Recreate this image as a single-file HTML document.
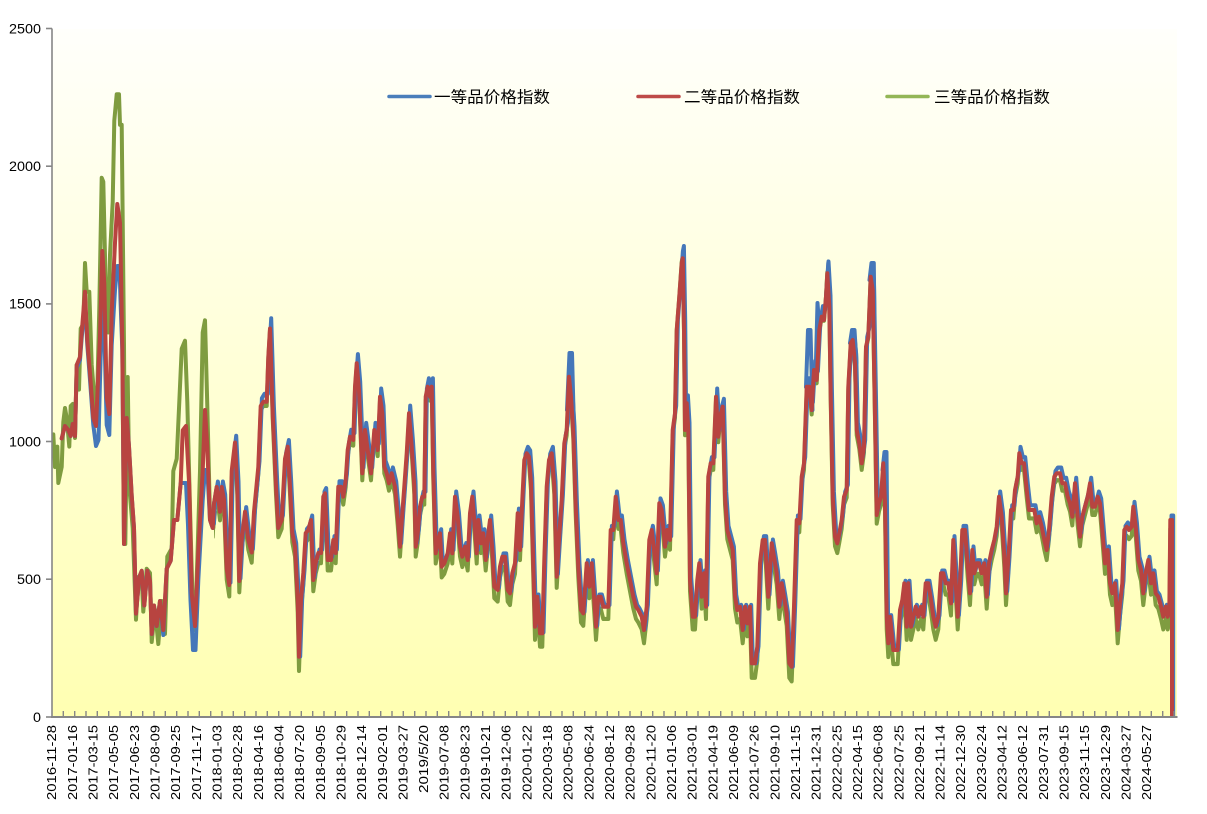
<!DOCTYPE html>
<html><head><meta charset="utf-8"><style>
html,body{margin:0;padding:0;background:#fff;}
svg{display:block;}
text{font-family:"Liberation Sans","Noto Sans CJK SC",sans-serif;fill:#000;}
</style></head><body>
<svg width="1207" height="814" viewBox="0 0 1207 814" xmlns="http://www.w3.org/2000/svg">
<defs>
<linearGradient id="bg" x1="0" y1="0" x2="0" y2="1">
<stop offset="0" stop-color="#fffffb"/>
<stop offset="1" stop-color="#ffffb2"/>
</linearGradient>
<clipPath id="cl"><rect x="214" y="0" width="970" height="717"/></clipPath>
<clipPath id="pl"><rect x="52" y="0" width="1130" height="717"/></clipPath>
<polyline id="rp" points="61.7,438.4 65,426 68.3,430 70.7,436 72.7,424 75,436 76.7,365 80,357 81.7,332.5 85,291.8 87.3,340.7 90,373.3 93.3,418 96,426 100,336.6 102.3,251 104.3,283.7 106.7,397.7 109.3,414 111.7,312 115,243 117.3,204 120,222.6 122.3,344.8 124,544 126.7,418 129,446.6 131.7,495.5 134,528 136,613.6 139.3,577 141.7,570.8 144.3,605.5 147.3,570.8 150,581 151.7,634 154,605.5 156.7,626 160,601 163.3,630 166.7,568.8 170.7,560.7 174,520 177.3,520 180.7,483 182.7,430.3 186,426 189.3,487 191.7,593 195,626 198.3,552.5 202.7,471 205,410 207.3,446.6 210,520 212.7,528 214,503.6 216.7,487 220,511.8 221.7,487 224,499.6 226.7,568.8 229.3,585 231.7,471 235,442.5 237.3,487 239.3,581 241.7,540 245,511.8 248.3,540 251.7,552.5 254,511.8 258.3,467 260.7,406 263.3,401.8 266.7,401.8 268.3,357 270,328.5 272.7,414 276,487 278.3,528 281.7,520 285,458.8 287.7,446.7 290,486.7 292.3,533 295,546.7 297.7,600 299,656.7 301,600 303.3,573 305.7,533 308.3,530 311,520 313.3,580 315.7,563 318.3,553 321,553 323.3,496.7 325,493.3 327.7,560 331,560 333.3,540 335.7,553 338.3,486.7 341,486.7 343.3,496.7 345.7,480 347.7,450 350,436.7 353.3,440 355,386.7 356.7,363.3 359,390 361,440 362.3,473.3 365,430 367.7,450 371,473.3 374.3,430 377.7,450 380,396.7 382.3,413.3 384.3,466.7 386.7,473.3 389,483.3 391.7,473.3 395,486.7 397.7,516.7 400,546.7 402.3,513.3 404.3,486.7 406.7,453.3 409,413.3 411.7,446.7 414.3,486.7 415.7,546.7 417.7,533.3 420,506.7 422.3,496.7 424.3,496.7 425.7,396.7 427.7,386.7 430,396.7 431.7,386.7 433.3,473.3 435.7,553.3 438.3,540 440,533.3 441.7,566.7 444.3,563.3 447.7,553.3 450,533.3 452.3,553.3 455,496.7 457.7,516.7 460,546.7 462.3,556.7 465,546.7 467.7,560 470,513.3 472.3,496.7 475,530 476.7,553.3 478.3,520 481,543.3 483.3,533.3 485.7,560 488.3,533.3 490,520 492.3,550 494.3,586.7 497.7,590 500,566.7 502.3,556.7 505,556.7 507.7,590 510,593.3 512.3,573.3 515,563.3 517.7,513.3 520,550 522.3,500 524.3,460 526.7,453.3 529,456.7 531,483.3 533.3,566.7 535,626.7 537.3,596.7 540,633.3 542.3,633.3 544.3,560 546.7,486.7 549,460 551.7,453.3 554.3,486.7 556.7,576.7 559,540 561.7,500 564.3,443.3 566.7,430 569,376.7 571,396.7 573.3,433.3 575.7,506.7 578.3,566.7 581,610 583.3,613.3 586.7,563.3 589.3,586.7 591.7,563.3 594,596.7 596,626.7 598.3,596.7 600.7,596.7 603.3,606.7 608.3,606.7 610.7,530 613.3,530 615.7,496.7 618.3,520 620.7,520 623.3,543.3 626.7,563.3 630,580 633.3,596.7 636,606.7 638.3,610 641.7,616.7 644,630 646.7,606.7 649.3,540 651.7,530 654,550 656.7,573.3 659.3,503.3 661.7,510 665,546.7 667.3,530 670,540 672.7,430 675,413.3 676.7,330 679.3,296.7 681.7,263.3 682.7,258.3 684,330 685,430 686.7,403.3 688.3,430 690,580 692.7,616.7 695,616.7 697.3,580 699.3,563.3 701.7,596.7 704,573.3 706,606.7 708.3,476.7 710.7,463.3 713.3,463.3 716,396.7 718.3,436.7 720,416.7 722.7,406.7 725,496.7 727.3,530 730,540 732.7,550 735,596.7 737.3,610 740,606.7 742.7,630 745,606.7 747.3,623.3 750,606.7 751.7,663.3 755,663.3 757.3,646.7 760,563.3 762.7,540 765,540 768.3,596.7 771.7,543.3 774,556.7 776.7,573.3 779.3,606.7 781.7,583.3 784,596.7 786.7,613.3 789.3,663.3 791.7,666.7 794,606.7 796.7,520 799.3,523.3 801.7,476.7 804,463.3 806.7,386.7 809.3,386.7 811.7,410 814,370 816.7,380 819.3,330 821.7,316.7 824,320 826,296.7 827.3,273.3 829.3,306.7 830.7,396.7 832.7,496.7 835,536.7 837.3,543.3 839.3,533.3 841.7,520 844,496.7 846.7,490 848.3,386.7 850.7,343.3 852.7,340 855,363.3 856.7,430 859.3,443.3 861.7,463.3 864,446.7 866,346.7 868.3,336.7 870.7,276.7 872.7,290 875,416.7 876.7,515 879,503.3 881,496.7 883.3,463.3 885,503.3 886.7,616.7 888.3,643.3 890,616.7 891.7,633.3 893.3,650 897.7,650 900,610 902.3,600 904.3,583.3 906.7,626.7 908.3,583.3 911,626.7 913.3,616.7 915.7,606.7 918.3,616.7 921,606.7 923.3,616.7 925.7,583.3 928.3,583.3 931,600 933.3,616.7 935.7,626.7 938.3,616.7 941,573.3 943.3,573.3 945.7,583.3 948.3,583.3 951,603.3 953.3,540 955.7,583.3 957.7,616.7 960,583.3 962.3,530 965,530 967.7,566.7 970,593.3 972.3,550 974.3,573.3 976.7,563.3 979,563.3 981.7,573.3 984.3,563.3 986.7,596.7 989,563.3 991.7,550 994.3,540 996.7,526.7 999,496.7 1001.7,516.7 1004.3,556.7 1006,593.3 1008.3,560 1011,510 1013.3,510 1015,490 1017.7,476.7 1019.3,453.3 1021.7,463.3 1024,463.3 1026.7,490 1029,510 1031.7,510 1034.3,510 1036.7,523.3 1039,516.7 1041.7,526.7 1044.3,540 1046.7,550 1049,530 1051.7,496.7 1054.3,476.7 1056.7,473.3 1060,473.3 1062.3,483.3 1065,483.3 1067.7,496.7 1070,503.3 1072.3,516.7 1075,483.3 1077.7,516.7 1080,536.7 1082.3,516.7 1085,506.7 1087.7,496.7 1090,483.3 1092.3,506.7 1095,506.7 1097.7,496.7 1100,503.3 1102.3,530 1105,563.3 1107.7,550 1110,583.3 1112.3,593.3 1115,583.3 1117.7,630 1120,603.3 1122.3,583.3 1124.3,530 1126.7,526.7 1129,530 1131.7,526.7 1133.3,506.7 1135.7,526.7 1138.3,560 1141,570 1143.3,593.3 1145.7,573.3 1148.3,560 1151,583.3 1153.3,573.3 1155.7,593.3 1158.3,596.7 1161,606.7 1163.3,616.7 1165.7,606.7 1167.7,616.7 1169.3,610 1170.3,520 1172,520 1172,717"/>
</defs>
<rect x="52" y="29" width="1125" height="688" fill="url(#bg)"/>

<g fill="none" stroke-width="4" stroke-linejoin="round" stroke-linecap="round" clip-path="url(#pl)">
<!-- green -->
<polyline stroke="#7f9c40" points="53.3,434.4 55,467 57.3,446.6 58.3,483 61.7,467 63.3,422 65,408 66.7,418 69.3,446.6 70.7,406 72.7,404 75,438 76.7,365 79,389.6 80.7,328.5 83.3,324 85,263 86.7,291.8 89.3,291.8 91.7,365 95,406 96.7,418 99.3,308 101.7,177.8 103.3,181.8 106,300 108.3,332.5 110,255 112.7,202 114.3,120.7 116.7,94.3 119,94.3 120,124.8 121.7,124.8 124,344.8 125.3,544 127.7,377 129.3,487 132.7,528 136,619.7 138.3,577 141.7,577 143.3,611.6 146.7,568.8 150,573 151.7,642 155,609.5 158.3,644 161.7,601 165,634 167.3,556.6 171.7,548.4 173.3,471 176.7,458.8 179.3,401.8 181.7,348.8 185,340.7 187.3,401.8 190,507.7 192.7,605.5 195,630 197.3,560.7 200,471 202.7,332.5 205,320.3 207.3,405.9 210,515.8 213.3,528 215,512"/>
<g clip-path="url(#cl)"><use href="#rp" transform="matrix(1,0,0,1.04,0,-12)" stroke="#7f9c40"/></g>
<!-- blue -->
<polyline stroke="#4577b9" points="61.7,438.4 65,426 68.3,430 70.7,436 72.7,424 75,436 76.7,368 80,360 81.7,338 85,300 87.3,345 90,380 93.3,425 96,446 98.5,440 100,380 102.3,300 104.3,330 106.7,425 109.3,435 111.7,345 115,290 117.3,266 119.5,266 120.5,300 122.3,350 124,544 126.7,418 129,446.6 131.7,495.5 134,528 136,613.6 139.3,577 141.7,570.8 144.3,605.5 147.3,570.8 150,581 151.7,634 154,605.5 156.7,626 160,601 163.3,635 166.7,568.8 170.7,560.7 174,520 177.3,520 180.7,483 182.7,483 186,483 188,525 190.5,600 193,650 195.5,650 198.3,580 202.7,500 205,470 207.3,470 210,520 212.7,528 214,503.6 216.7,487"/>
<g clip-path="url(#cl)"><use href="#rp" transform="matrix(1,0,0,1.03,1.2,-20)" stroke="#4577b9"/></g>
<g stroke="#4577b9">
<polyline points="567,410 569.5,353 572,353 574,430"/>
<polyline points="806,387 808,330 810.5,330 812.5,410"/>
<polyline points="815.5,380 817.5,303 819.5,330"/>
<polyline points="826,297 828.3,263 830.5,307"/>
<polyline points="850,343 852,330 854.5,330 856.5,363"/>
<polyline points="869.5,280 871.5,263 873.8,263 875.5,416"/>
<polyline points="882.5,470 884.5,452 886.5,452 888,616"/>
</g>
<!-- red -->
<use href="#rp" stroke="#b84440"/>
</g>

<!-- axes -->
<g stroke="#868686" stroke-width="1.6" fill="none">
<line x1="52" y1="28.5" x2="52" y2="717"/>
<line x1="51" y1="717" x2="1177.5" y2="717" stroke-width="2"/>
<line x1="46" y1="28.5" x2="52" y2="28.5"/>
<line x1="46" y1="166.2" x2="52" y2="166.2"/>
<line x1="46" y1="303.9" x2="52" y2="303.9"/>
<line x1="46" y1="441.5" x2="52" y2="441.5"/>
<line x1="46" y1="579.2" x2="52" y2="579.2"/>
<line x1="46" y1="717" x2="52" y2="717"/>
<path stroke-width="1.4" d="M63.3 711V717M74.7 711V717M86 711V717M97.3 711V717M108.7 711V717M120 711V717M131.3 711V717M142.7 711V717M154 711V717M165.3 711V717M176.7 711V717M188 711V717M199.3 711V717M210.7 711V717M222 711V717M233.3 711V717M244.7 711V717M256 711V717M267.3 711V717M278.7 711V717M290 711V717M301.3 711V717M312.7 711V717M324 711V717M335.3 711V717M346.7 711V717M358 711V717M369.3 711V717M380.7 711V717M392 711V717M403.3 711V717M414.7 711V717M426 711V717M437.3 711V717M448.7 711V717M460 711V717M471.3 711V717M482.7 711V717M494 711V717M505.3 711V717M516.7 711V717M528 711V717M539.3 711V717M550.7 711V717M562 711V717M573.3 711V717M584.7 711V717M596 711V717M607.3 711V717M618.7 711V717M630 711V717M641.3 711V717M652.7 711V717M664 711V717M675.3 711V717M686.7 711V717M698 711V717M709.3 711V717M720.7 711V717M732 711V717M743.3 711V717M754.7 711V717M766 711V717M777.3 711V717M788.7 711V717M800 711V717M811.3 711V717M822.7 711V717M834 711V717M845.3 711V717M856.7 711V717M868 711V717M879.3 711V717M890.7 711V717M902 711V717M913.3 711V717M924.7 711V717M936 711V717M947.3 711V717M958.7 711V717M970 711V717M981.3 711V717M992.7 711V717M1004 711V717M1015.3 711V717M1026.7 711V717M1038 711V717M1049.3 711V717M1060.7 711V717M1072 711V717M1083.3 711V717M1094.7 711V717M1106 711V717M1117.3 711V717M1128.7 711V717M1140 711V717M1151.3 711V717M1162.7 711V717M1174 711V717"/>
</g>

<!-- y labels -->
<g font-size="13.5" text-anchor="end">
<text x="41" y="33.3" textLength="32" lengthAdjust="spacingAndGlyphs">2500</text>
<text x="41" y="171" textLength="32" lengthAdjust="spacingAndGlyphs">2000</text>
<text x="41" y="308.7" textLength="32" lengthAdjust="spacingAndGlyphs">1500</text>
<text x="41" y="446.3" textLength="32" lengthAdjust="spacingAndGlyphs">1000</text>
<text x="41" y="584" textLength="24" lengthAdjust="spacingAndGlyphs">500</text>
<text x="41" y="721.8" textLength="8" lengthAdjust="spacingAndGlyphs">0</text>
</g>

<!-- x labels -->
<g font-size="12.5" text-anchor="end">
<text transform="translate(56.2,725) rotate(-90)" textLength="75" lengthAdjust="spacingAndGlyphs">2016-11-28</text>
<text transform="translate(76.9,725) rotate(-90)" textLength="75" lengthAdjust="spacingAndGlyphs">2017-01-16</text>
<text transform="translate(97.5,725) rotate(-90)" textLength="75" lengthAdjust="spacingAndGlyphs">2017-03-15</text>
<text transform="translate(118.2,725) rotate(-90)" textLength="75" lengthAdjust="spacingAndGlyphs">2017-05-05</text>
<text transform="translate(138.8,725) rotate(-90)" textLength="75" lengthAdjust="spacingAndGlyphs">2017-06-23</text>
<text transform="translate(159.5,725) rotate(-90)" textLength="75" lengthAdjust="spacingAndGlyphs">2017-08-09</text>
<text transform="translate(180.2,725) rotate(-90)" textLength="75" lengthAdjust="spacingAndGlyphs">2017-09-25</text>
<text transform="translate(200.8,725) rotate(-90)" textLength="75" lengthAdjust="spacingAndGlyphs">2017-11-17</text>
<text transform="translate(221.5,725) rotate(-90)" textLength="75" lengthAdjust="spacingAndGlyphs">2018-01-03</text>
<text transform="translate(242.1,725) rotate(-90)" textLength="75" lengthAdjust="spacingAndGlyphs">2018-02-28</text>
<text transform="translate(262.8,725) rotate(-90)" textLength="75" lengthAdjust="spacingAndGlyphs">2018-04-16</text>
<text transform="translate(283.5,725) rotate(-90)" textLength="75" lengthAdjust="spacingAndGlyphs">2018-06-04</text>
<text transform="translate(304.1,725) rotate(-90)" textLength="75" lengthAdjust="spacingAndGlyphs">2018-07-20</text>
<text transform="translate(324.8,725) rotate(-90)" textLength="75" lengthAdjust="spacingAndGlyphs">2018-09-05</text>
<text transform="translate(345.4,725) rotate(-90)" textLength="75" lengthAdjust="spacingAndGlyphs">2018-10-29</text>
<text transform="translate(366.1,725) rotate(-90)" textLength="75" lengthAdjust="spacingAndGlyphs">2018-12-14</text>
<text transform="translate(386.8,725) rotate(-90)" textLength="75" lengthAdjust="spacingAndGlyphs">2019-02-01</text>
<text transform="translate(407.4,725) rotate(-90)" textLength="75" lengthAdjust="spacingAndGlyphs">2019-03-27</text>
<text transform="translate(428.1,725) rotate(-90)" textLength="68" lengthAdjust="spacingAndGlyphs">2019/5/20</text>
<text transform="translate(448.7,725) rotate(-90)" textLength="75" lengthAdjust="spacingAndGlyphs">2019-07-08</text>
<text transform="translate(469.4,725) rotate(-90)" textLength="75" lengthAdjust="spacingAndGlyphs">2019-08-23</text>
<text transform="translate(490.1,725) rotate(-90)" textLength="75" lengthAdjust="spacingAndGlyphs">2019-10-21</text>
<text transform="translate(510.7,725) rotate(-90)" textLength="75" lengthAdjust="spacingAndGlyphs">2019-12-06</text>
<text transform="translate(531.4,725) rotate(-90)" textLength="75" lengthAdjust="spacingAndGlyphs">2020-01-22</text>
<text transform="translate(552,725) rotate(-90)" textLength="75" lengthAdjust="spacingAndGlyphs">2020-03-18</text>
<text transform="translate(572.7,725) rotate(-90)" textLength="75" lengthAdjust="spacingAndGlyphs">2020-05-08</text>
<text transform="translate(593.4,725) rotate(-90)" textLength="75" lengthAdjust="spacingAndGlyphs">2020-06-24</text>
<text transform="translate(614,725) rotate(-90)" textLength="75" lengthAdjust="spacingAndGlyphs">2020-08-12</text>
<text transform="translate(634.7,725) rotate(-90)" textLength="75" lengthAdjust="spacingAndGlyphs">2020-09-28</text>
<text transform="translate(655.3,725) rotate(-90)" textLength="75" lengthAdjust="spacingAndGlyphs">2020-11-20</text>
<text transform="translate(676,725) rotate(-90)" textLength="75" lengthAdjust="spacingAndGlyphs">2021-01-06</text>
<text transform="translate(696.7,725) rotate(-90)" textLength="75" lengthAdjust="spacingAndGlyphs">2021-03-01</text>
<text transform="translate(717.3,725) rotate(-90)" textLength="75" lengthAdjust="spacingAndGlyphs">2021-04-19</text>
<text transform="translate(738,725) rotate(-90)" textLength="75" lengthAdjust="spacingAndGlyphs">2021-06-09</text>
<text transform="translate(758.6,725) rotate(-90)" textLength="75" lengthAdjust="spacingAndGlyphs">2021-07-26</text>
<text transform="translate(779.3,725) rotate(-90)" textLength="75" lengthAdjust="spacingAndGlyphs">2021-09-10</text>
<text transform="translate(800,725) rotate(-90)" textLength="75" lengthAdjust="spacingAndGlyphs">2021-11-15</text>
<text transform="translate(820.6,725) rotate(-90)" textLength="75" lengthAdjust="spacingAndGlyphs">2021-12-31</text>
<text transform="translate(841.3,725) rotate(-90)" textLength="75" lengthAdjust="spacingAndGlyphs">2022-02-25</text>
<text transform="translate(861.9,725) rotate(-90)" textLength="75" lengthAdjust="spacingAndGlyphs">2022-04-15</text>
<text transform="translate(882.6,725) rotate(-90)" textLength="75" lengthAdjust="spacingAndGlyphs">2022-06-08</text>
<text transform="translate(903.3,725) rotate(-90)" textLength="75" lengthAdjust="spacingAndGlyphs">2022-07-25</text>
<text transform="translate(923.9,725) rotate(-90)" textLength="75" lengthAdjust="spacingAndGlyphs">2022-09-21</text>
<text transform="translate(944.6,725) rotate(-90)" textLength="75" lengthAdjust="spacingAndGlyphs">2022-11-14</text>
<text transform="translate(965.2,725) rotate(-90)" textLength="75" lengthAdjust="spacingAndGlyphs">2022-12-30</text>
<text transform="translate(985.9,725) rotate(-90)" textLength="75" lengthAdjust="spacingAndGlyphs">2023-02-24</text>
<text transform="translate(1006.6,725) rotate(-90)" textLength="75" lengthAdjust="spacingAndGlyphs">2023-04-12</text>
<text transform="translate(1027.2,725) rotate(-90)" textLength="75" lengthAdjust="spacingAndGlyphs">2023-06-12</text>
<text transform="translate(1047.9,725) rotate(-90)" textLength="75" lengthAdjust="spacingAndGlyphs">2023-07-31</text>
<text transform="translate(1068.5,725) rotate(-90)" textLength="75" lengthAdjust="spacingAndGlyphs">2023-09-15</text>
<text transform="translate(1089.2,725) rotate(-90)" textLength="75" lengthAdjust="spacingAndGlyphs">2023-11-15</text>
<text transform="translate(1109.9,725) rotate(-90)" textLength="75" lengthAdjust="spacingAndGlyphs">2023-12-29</text>
<text transform="translate(1130.5,725) rotate(-90)" textLength="75" lengthAdjust="spacingAndGlyphs">2024-03-27</text>
<text transform="translate(1151.2,725) rotate(-90)" textLength="75" lengthAdjust="spacingAndGlyphs">2024-05-27</text>
</g>

<!-- legend -->
<g stroke-width="3.5" stroke-linecap="round">
<line x1="389" y1="96.5" x2="430" y2="96.5" stroke="#4a7ebb"/>
<line x1="638" y1="96.5" x2="679" y2="96.5" stroke="#be4b48"/>
<line x1="887" y1="96.5" x2="928" y2="96.5" stroke="#93b656"/>
</g>
<g font-size="16" style="font-family:'Liberation Sans','Noto Sans CJK SC',sans-serif">
<text x="434" y="102.5" textLength="116" lengthAdjust="spacingAndGlyphs">一等品价格指数</text>
<text x="684" y="102.5" textLength="116" lengthAdjust="spacingAndGlyphs">二等品价格指数</text>
<text x="934" y="102.5" textLength="116" lengthAdjust="spacingAndGlyphs">三等品价格指数</text>
</g>
</svg>
</body></html>
